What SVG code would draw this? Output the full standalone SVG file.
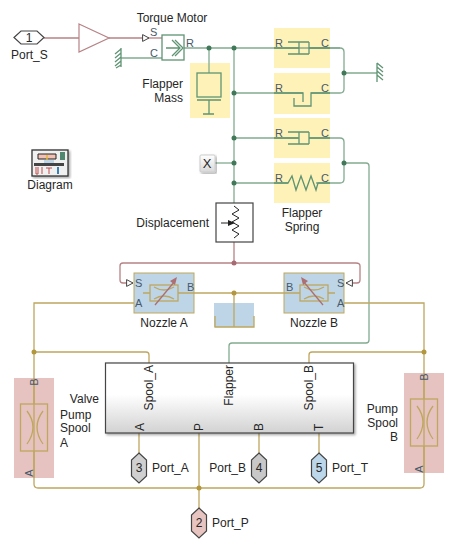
<svg xmlns="http://www.w3.org/2000/svg" width="456" height="548" viewBox="0 0 456 548">
<style>
text{font-family:"Liberation Sans",Arial,sans-serif;font-size:12px;fill:#262626}
.p{font-size:11px;fill:#47596b}
.m{text-anchor:middle}.e{text-anchor:end}
.g{fill:none;stroke:#82ab90;stroke-width:1.3}
.gd{fill:none;stroke:#5f9473;stroke-width:1.3}
.o{fill:none;stroke:#bfa75f;stroke-width:1.3}
.r{fill:none;stroke:#b78285;stroke-width:1.3}
.y{fill:#fff2b8}.pk{fill:#e6c3c1}.b{fill:#bdd5e6}
.dg{fill:#41785a}.do{fill:#b3973f}.dr{fill:#a86a72}
.hex{stroke:#444;stroke-width:1.2}
.box{fill:#fff;stroke:#444;stroke-width:1.2}
</style>
<defs>
<linearGradient id="vg" x1="0" y1="0" x2="0" y2="1"><stop offset="0" stop-color="#fff"/><stop offset="0.45" stop-color="#fff"/><stop offset="1" stop-color="#d2d2d2"/></linearGradient>
<linearGradient id="xg" x1="0" y1="0" x2="0" y2="1"><stop offset="0" stop-color="#fff"/><stop offset="1" stop-color="#d8d8d8"/></linearGradient>
<filter id="sh" x="-10%" y="-10%" width="120%" height="120%"><feDropShadow dx="1.5" dy="1.5" stdDeviation="1" flood-color="#000" flood-opacity="0.35"/></filter>
<marker id="tri" markerWidth="9" markerHeight="9" refX="7" refY="4" orient="auto" markerUnits="userSpaceOnUse"><path d="M0.6,0.6L7,4L0.6,7.4Z" fill="#fff" stroke="#444" stroke-width="1"/></marker>
</defs>

<g id="backgrounds">
<rect class="y" x="190" y="63" width="40" height="55"/>
<rect class="y" x="274" y="28" width="56" height="40"/>
<rect class="y" x="274" y="73" width="56" height="41"/>
<rect class="y" x="274" y="118" width="56" height="40"/>
<rect class="y" x="274" y="163" width="56" height="40"/>
<rect class="pk" x="14" y="378" width="40" height="100"/>
<rect class="pk" x="404" y="373" width="40" height="100"/>
</g>

<g id="connectors">
<path class="r" d="M44,38H79"/><path class="r" d="M109,38H149" marker-end="url(#tri)"/>
<path class="r" d="M149,38H162"/>
<path class="g" d="M121,58H162"/>
<path class="g" d="M184,48H340"/>
<path class="g" d="M234,48V203"/>
<path class="g" d="M209,48V73"/>
<path class="g" d="M234,93H303"/>
<path class="g" d="M234,138H298"/>
<path class="g" d="M309,48H340Q344,48 344,52V89Q344,93 340,93H311"/>
<path class="g" d="M344,73H377"/>
<path class="g" d="M309,138H340Q344,138 344,142V179Q344,183 340,183H316"/>
<path class="g" d="M234,183H288"/>
<path class="g" d="M215,163H234"/>
<path class="g" d="M344,163H366Q369,163 369,166V340Q369,343 366,343H232Q229,343 229,346V363"/>
<path class="r" d="M234,242V263"/>
<path class="r" d="M234,263H123Q120,263 120,266V280Q120,283 123,283H133" marker-end="url(#tri)"/>
<path class="r" d="M234,263H356Q360,263 360,266V280Q360,283 357,283H346" marker-end="url(#tri)"/>
<path class="o" d="M194,293H284"/>
<path class="o" d="M234,293V327"/>
<path class="o" d="M134,303H34V484Q34,488 38,488H420Q424,488 424,484V303H344"/>
<path class="o" d="M34,352H146Q149,352 149,355V363"/>
<path class="o" d="M424,352H312Q309,352 309,355V363"/>
<path class="o" d="M139,433V453"/><path class="o" d="M199,433V508"/>
<path class="o" d="M259,433V453"/><path class="o" d="M319,433V453"/>
<circle class="dg" cx="209" cy="48" r="2.5"/><circle class="dg" cx="234" cy="48" r="2.5"/>
<circle class="dg" cx="234" cy="93" r="2.5"/><circle class="dg" cx="234" cy="138" r="2.5"/>
<circle class="dg" cx="234" cy="163" r="2.5"/><circle class="dg" cx="234" cy="183" r="2.5"/>
<circle class="dg" cx="344" cy="73" r="2.5"/><circle class="dg" cx="344" cy="163" r="2.5"/>
<circle class="dr" cx="234" cy="263" r="2.5"/>
<circle class="do" cx="234" cy="293" r="2.5"/><circle class="do" cx="34" cy="352" r="2.5"/>
<circle class="do" cx="424" cy="352" r="2.5"/><circle class="do" cx="199" cy="488" r="2.5"/>
</g>

<g id="Port_S">
<path class="hex" fill="#fff" d="M14,37.5L21,31H37L44,37.5L37,44H21Z"/>
<text class="m" x="29" y="42">1</text><text x="11" y="59">Port_S</text>
</g>
<g id="Gain"><path d="M79,24L109,38L79,52Z" fill="#fff" stroke="#b78285" stroke-width="1.2"/></g>
<g id="GroundLeft"><path class="gd" d="M121,48V67M121,49L115,54M121,53L115,58M121,57L115,62M121,61L115,66M121,65L116,68"/></g>
<g id="Torque_Motor">
<rect x="162" y="35" width="22" height="25" fill="#fff" stroke="#5f9473" stroke-width="1.3"/>
<path class="gd" d="M166,48H180M172,40L180,48L172,56M175,40L183,48L175,56"/>
<text class="m" x="172" y="22">Torque Motor</text>
<text class="p" x="150" y="36">S</text><text class="p" x="150" y="57">C</text><text class="p" x="186" y="47">R</text>
</g>
<g id="Flapper_Mass">
<rect x="197" y="73" width="24" height="24" fill="none" stroke="#5f9473" stroke-width="1.3"/>
<path class="gd" d="M197,100H221M209,100V114M203,114H214"/>
<text class="e" x="183" y="88">Flapper</text><text class="e" x="183" y="102">Mass</text>
</g>
<g id="Damper1">
<path class="gd" d="M274,48H299M288,42H309M288,54H309M299,42V54M309,42V54M309,48H330"/>
<text class="p" x="275" y="47">R</text><text class="p" x="321" y="47">C</text>
</g>
<g id="Stop">
<path class="gd" d="M274,93H303V102M294,98V106H311V93H330"/>
<text class="p" x="275" y="92">R</text><text class="p" x="321" y="92">C</text>
</g>
<g id="Damper2">
<path class="gd" d="M274,138H299M288,132H309M288,144H309M299,132V144M309,132V144M309,138H330"/>
<text class="p" x="275" y="137">R</text><text class="p" x="321" y="137">C</text>
</g>
<g id="Flapper_Spring">
<path class="gd" d="M274,183H288L292,176L296,190L301,176L306,190L311,176L316,190L318,183H330"/>
<text class="p" x="275" y="182">R</text><text class="p" x="321" y="182">C</text>
<text class="m" x="302" y="217">Flapper</text><text class="m" x="302" y="231">Spring</text>
</g>
<g id="GroundRight"><path class="gd" d="M377,63V82M377,63L383,68M377,67L383,72M377,71L383,76M377,75L383,80"/></g>
<g id="Diagram">
<rect x="32" y="150" width="36" height="26" fill="#f0f0f0" stroke="#333" stroke-width="1.3" filter="url(#sh)"/>
<path d="M38,154H56V159H38Z" fill="#f3c0b4" stroke="#222" stroke-width="1"/>
<path d="M47,155V165" stroke="#e4b93c" stroke-width="1.5"/>
<rect x="60" y="152" width="5" height="8" fill="#4f8770"/>
<rect x="34" y="163" width="30" height="3" fill="#444"/>
<rect x="44" y="160" width="10" height="3" fill="#bdd5e6"/>
<path d="M36,167V174H38V167M42,167V174M46,168H52M49,168V174" stroke="#c04a4a" fill="none"/><path d="M58,167V174" stroke="#3c7fb1" stroke-width="2"/>
<text class="m" x="50" y="189">Diagram</text>
</g>
<g id="X">
<rect x="200" y="155" width="15" height="17" rx="1" fill="url(#xg)" stroke="#ccc" filter="url(#sh)"/>
<text class="m" x="207" y="168" style="font-size:13px">X</text>
</g>
<g id="Displacement">
<rect class="box" x="216" y="203" width="37" height="39"/>
<path fill="none" stroke="#222" stroke-width="1" d="M234,206L239,210L232,214L239,218L232,222L239,226L232,230L239,234L234,238"/>
<path d="M221,223H232" stroke="#222" stroke-width="1"/><path d="M235,223L228,220V226Z" fill="#222"/>
<text class="e" x="209" y="227">Displacement</text>
</g>
<g id="Nozzle_A">
<rect class="b" x="134" y="273" width="60" height="40" stroke="#bfa75f" stroke-width="1"/>
<rect x="150" y="285" width="28" height="16" fill="none" stroke="#bfa75f" stroke-width="1.3"/>
<path class="o" d="M143,293H150M178,293H194M154,287Q164,293 174,287M154,299Q164,293 174,299"/>
<path d="M155,305L175,281" stroke="#ac6f74" stroke-width="1.3"/><path d="M177,277L170,281L175,285Z" fill="#ac6f74"/>
<text class="p" x="135" y="287">S</text><text class="p" x="135" y="307">A</text><text class="p" x="187" y="291">B</text>
<text class="m" x="164" y="327">Nozzle A</text>
</g>
<g id="Nozzle_B">
<rect class="b" x="284" y="273" width="60" height="40" stroke="#bfa75f" stroke-width="1"/>
<rect x="300" y="285" width="28" height="16" fill="none" stroke="#bfa75f" stroke-width="1.3"/>
<path class="o" d="M284,293H300M328,293H335M304,287Q314,293 324,287M304,299Q314,293 324,299"/>
<path d="M323,305L303,281" stroke="#ac6f74" stroke-width="1.3"/><path d="M301,277L308,281L303,285Z" fill="#ac6f74"/>
<text class="p" x="286" y="291">B</text><text class="p" x="337" y="287">S</text><text class="p" x="337" y="307">A</text>
<text class="m" x="314" y="327">Nozzle B</text>
</g>
<g id="Tank">
<rect class="b" x="214" y="303" width="40" height="24"/>
<path class="o" d="M215,316V327H254V316M234,303V327"/>
</g>
<g id="Pump_Spool_A">
<rect x="20.500" y="404" width="27" height="47" fill="none" stroke="#bfa75f" stroke-width="1.300"/>
<path class="o" d="M34,378V404M34,451V478M27,411Q39,427 27,444M43,411Q31,427 43,444"/>
<text class="p" transform="translate(38,382) rotate(-90)" text-anchor="middle">B</text>
<text class="p" transform="translate(33,473) rotate(-90)" text-anchor="middle">A</text>
<text x="60" y="419">Pump</text><text x="60" y="432">Spool</text><text x="60" y="447">A</text>
</g>
<g id="Pump_Spool_B">
<rect x="410.500" y="399" width="27" height="47" fill="none" stroke="#bfa75f" stroke-width="1.300"/>
<path class="o" d="M424,373V399M424,446V473M417,406Q429,422 417,439M433,406Q421,422 433,439"/>
<text class="p" transform="translate(428,377) rotate(-90)" text-anchor="middle">B</text>
<text class="p" transform="translate(423,469) rotate(-90)" text-anchor="middle">A</text>
<text class="e" x="398" y="413">Pump</text><text class="e" x="398" y="427">Spool</text><text class="e" x="398" y="441">B</text>
</g>
<g id="Valve">
<rect x="105.500" y="363" width="248" height="70" fill="url(#vg)" stroke="#444" stroke-width="1.200" filter="url(#sh)"/>
<text class="e" x="99" y="403">Valve</text>
<text transform="translate(153,365) rotate(-90)" text-anchor="end">Spool_A</text>
<text transform="translate(233,365) rotate(-90)" text-anchor="end">Flapper</text>
<text transform="translate(313,365) rotate(-90)" text-anchor="end">Spool_B</text>
<text transform="translate(144,431) rotate(-90)">A</text>
<text transform="translate(203,431) rotate(-90)">P</text>
<text transform="translate(263,431) rotate(-90)">B</text>
<text transform="translate(323,431) rotate(-90)">T</text>
</g>
<g id="Port_A">
<path class="hex" fill="#d0d0d0" d="M139,453L146.500,460V476L139,483L131.500,476V460Z"/>
<text class="m" x="139" y="472">3</text><text x="152" y="472">Port_A</text>
</g>
<g id="Port_B">
<path class="hex" fill="#c8c8c8" d="M259,453L266.500,460V476L259,483L251.500,476V460Z"/>
<text class="m" x="259" y="472">4</text><text class="e" x="246" y="472">Port_B</text>
</g>
<g id="Port_T">
<path class="hex" fill="#bcd6ea" d="M319,453L326.500,460V476L319,483L311.500,476V460Z"/>
<text class="m" x="319" y="472">5</text><text x="332" y="472">Port_T</text>
</g>
<g id="Port_P">
<path class="hex" fill="#e8c4c0" d="M199,508L206.500,515V531L199,538L191.500,531V515Z"/>
<text class="m" x="199" y="527">2</text><text x="212" y="527">Port_P</text>
</g>
</svg>
